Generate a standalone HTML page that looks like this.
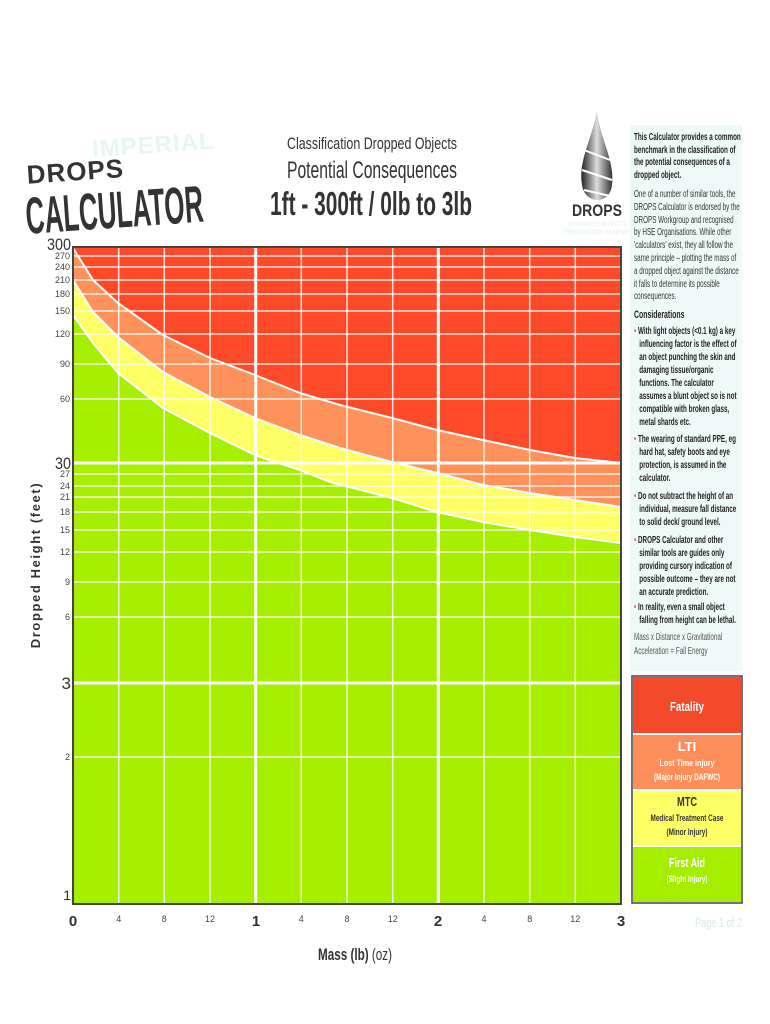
<!DOCTYPE html>
<html><head><meta charset="utf-8"><style>
html,body{margin:0;padding:0;background:#fff;width:770px;height:1024px;overflow:hidden;position:relative;font-family:"Liberation Sans",sans-serif;}
.abs{position:absolute;}
.side{position:absolute;left:634px;width:300px;white-space:nowrap;transform:scaleX(.63);transform-origin:0 0;font-size:10px;color:#333;line-height:12.6px;}
.side b{color:#222}
.bul{color:#ff5a3a}
</style></head><body>
<svg class="abs" style="left:0;top:0" width="770" height="1024" xmlns="http://www.w3.org/2000/svg" font-family="Liberation Sans, sans-serif">
<g transform="rotate(-4 110 190)">
<text x="95" y="156" font-size="24" font-weight="bold" fill="#e6f7f2" letter-spacing="1">IMPERIAL</text>
<text x="28" y="178" font-size="26" font-weight="bold" fill="#333" letter-spacing="1">DROPS</text>
<text x="24" y="228" font-size="52" font-weight="bold" fill="#333" textLength="178" lengthAdjust="spacingAndGlyphs">CALCULATOR</text>
</g>
<text x="372" y="149" font-size="17" text-anchor="middle" fill="#333" textLength="170" lengthAdjust="spacingAndGlyphs">Classification Dropped Objects</text>
<text x="372" y="178" font-size="24" text-anchor="middle" fill="#333" textLength="170" lengthAdjust="spacingAndGlyphs">Potential Consequences</text>
<text x="371" y="215" font-size="33" font-weight="bold" text-anchor="middle" fill="#333" textLength="202" lengthAdjust="spacingAndGlyphs">1ft - 300ft / 0lb to 3lb</text>
<defs><linearGradient id="g1" x1="0" x2="1"><stop offset="0" stop-color="#222"/><stop offset=".5" stop-color="#ddd"/><stop offset="1" stop-color="#333"/></linearGradient></defs>
<path d="M597 110 C592 140 578 160 582 185 C585 205 610 205 612 185 C615 160 600 140 597 110Z" fill="url(#g1)"/>
<path d="M584 150 L610 160 M582 170 L612 180 M584 190 L610 196" stroke="#fff" stroke-width="2"/>
<text x="597" y="216" font-size="17" font-weight="bold" text-anchor="middle" fill="#333" textLength="50" lengthAdjust="spacingAndGlyphs">DROPS</text>
<text x="597" y="226" font-size="6" text-anchor="middle" fill="#e0f2ee">DROPPED OBJECTS</text>
<text x="597" y="234" font-size="6" text-anchor="middle" fill="#e0f2ee">PREVENTION SCHEME</text>
<rect x="630" y="125" width="112" height="546" fill="#eefaf7"/>
<rect x="73" y="247" width="548" height="657" fill="#ff4a2a"/>
<polygon fill="#ff915a" points="73,248 93,280 118,303 163,335 210,358 255,375 300,393 340,405 392,418 437,430 483,440 530,450 575,458 621,463 621,904 73,904"/>
<polygon fill="#ffff66" points="73,280 93,312 118,337 163,372 210,397 255,418 300,435 340,448 392,462 437,473 483,485 530,493 575,500 621,507 621,904 73,904"/>
<polygon fill="#a6ef00" points="73,315 93,343 118,373 163,408 210,433 255,455 300,470 330,482 392,498 437,512 483,522 530,530 575,537 621,543 621,904 73,904"/>
<g stroke="#fff" stroke-opacity=".85" stroke-width="1.5">
<line x1="73" x2="621" y1="256" y2="256"/><line x1="73" x2="621" y1="267" y2="267"/><line x1="73" x2="621" y1="280" y2="280"/>
<line x1="73" x2="621" y1="294" y2="294"/><line x1="73" x2="621" y1="311" y2="311"/><line x1="73" x2="621" y1="334" y2="334"/>
<line x1="73" x2="621" y1="364" y2="364"/><line x1="73" x2="621" y1="399" y2="399"/>
<line x1="73" x2="621" y1="474" y2="474"/><line x1="73" x2="621" y1="486" y2="486"/><line x1="73" x2="621" y1="497" y2="497"/>
<line x1="73" x2="621" y1="512" y2="512"/><line x1="73" x2="621" y1="530" y2="530"/><line x1="73" x2="621" y1="552" y2="552"/>
<line x1="73" x2="621" y1="582" y2="582"/><line x1="73" x2="621" y1="617" y2="617"/><line x1="73" x2="621" y1="757" y2="757"/>
<line y1="247" y2="904" x1="118.7" x2="118.7"/><line y1="247" y2="904" x1="164.3" x2="164.3"/><line y1="247" y2="904" x1="210" x2="210"/>
<line y1="247" y2="904" x1="301.3" x2="301.3"/><line y1="247" y2="904" x1="347" x2="347"/><line y1="247" y2="904" x1="392.7" x2="392.7"/>
<line y1="247" y2="904" x1="484" x2="484"/><line y1="247" y2="904" x1="529.7" x2="529.7"/><line y1="247" y2="904" x1="575.3" x2="575.3"/>
</g>
<g stroke="#fff" stroke-width="3">
<line x1="73" x2="621" y1="463" y2="463"/><line x1="73" x2="621" y1="683" y2="683"/>
<line y1="247" y2="904" x1="255.7" x2="255.7"/><line y1="247" y2="904" x1="438.3" x2="438.3"/>
</g>
<g fill="none" stroke="#fff" stroke-width="2" stroke-linejoin="round">
<polyline points="73,248 93,280 118,303 163,335 210,358 255,375 300,393 340,405 392,418 437,430 483,440 530,450 575,458 621,463"/>
<polyline points="73,280 93,312 118,337 163,372 210,397 255,418 300,435 340,448 392,462 437,473 483,485 530,493 575,500 621,507"/>
<polyline points="73,315 93,343 118,373 163,408 210,433 255,455 300,470 330,482 392,498 437,512 483,522 530,530 575,537 621,543"/>
</g>
<rect x="73" y="247" width="548" height="657" fill="none" stroke="#444" stroke-width="2"/>
<g fill="#444" font-size="9" text-anchor="end">
<text x="70" y="259">270</text><text x="70" y="270">240</text><text x="70" y="283">210</text><text x="70" y="297">180</text>
<text x="70" y="314">150</text><text x="70" y="337">120</text><text x="70" y="367">90</text><text x="70" y="402">60</text>
<text x="70" y="477">27</text><text x="70" y="489">24</text><text x="70" y="500">21</text><text x="70" y="515">18</text>
<text x="70" y="533">15</text><text x="70" y="555">12</text><text x="70" y="585">9</text><text x="70" y="620">6</text>
<text x="70" y="760">2</text>
</g>
<g fill="#333" font-size="17" text-anchor="end">
<text x="71" y="250" textLength="24" lengthAdjust="spacingAndGlyphs">300</text>
<text x="71" y="469" textLength="16" lengthAdjust="spacingAndGlyphs">30</text>
<text x="71" y="689">3</text>
<text x="71" y="900" font-size="14">1</text>
</g>
<text transform="translate(40 565) rotate(-90)" font-size="13" font-weight="bold" fill="#333" text-anchor="middle" letter-spacing="1.6">Dropped Height (feet)</text>
<g fill="#444" font-size="9" text-anchor="middle">
<text x="118.7" y="922">4</text><text x="164.3" y="922">8</text><text x="210" y="922">12</text>
<text x="301.3" y="922">4</text><text x="347" y="922">8</text><text x="392.7" y="922">12</text>
<text x="484" y="922">4</text><text x="529.7" y="922">8</text><text x="575.3" y="922">12</text>
</g>
<g fill="#333" font-size="15" font-weight="bold" text-anchor="middle">
<text x="73" y="926">0</text><text x="256" y="926">1</text><text x="438" y="926">2</text><text x="621" y="926">3</text>
</g>
<text x="355" y="960" font-size="17" fill="#333" text-anchor="middle" textLength="74" lengthAdjust="spacingAndGlyphs"><tspan font-weight="bold">Mass (lb)</tspan> (oz)</text>
<rect x="632" y="676" width="110" height="227" fill="#fff" stroke="#444" stroke-width="1.5"/>
<rect x="633" y="677" width="108" height="56" fill="#f24a2a"/>
<rect x="633" y="735" width="108" height="54" fill="#ff8f5a"/>
<rect x="633" y="791" width="108" height="54" fill="#ffff66"/>
<rect x="633" y="847" width="108" height="55" fill="#a6ee00"/>
<g text-anchor="middle" font-weight="bold">
<text x="687" y="711" font-size="13" fill="#fff" textLength="34" lengthAdjust="spacingAndGlyphs">Fatality</text>
<text x="687" y="751" font-size="13" fill="#fff">LTI</text>
<text x="687" y="766" font-size="9" fill="#fff" textLength="55" lengthAdjust="spacingAndGlyphs">Lost Time Injury</text>
<text x="687" y="780" font-size="9" fill="#fff" textLength="66" lengthAdjust="spacingAndGlyphs">(Major Injury DAFWC)</text>
<text x="687" y="806" font-size="13" fill="#333" textLength="20" lengthAdjust="spacingAndGlyphs">MTC</text>
<text x="687" y="821" font-size="9" fill="#333" textLength="73" lengthAdjust="spacingAndGlyphs">Medical Treatment Case</text>
<text x="687" y="835" font-size="9" fill="#333" textLength="41" lengthAdjust="spacingAndGlyphs">(Minor Injury)</text>
<text x="687" y="867" font-size="13" fill="#fff" textLength="36" lengthAdjust="spacingAndGlyphs">First Aid</text>
<text x="687" y="882" font-size="9" fill="#fff" textLength="41" lengthAdjust="spacingAndGlyphs">(Slight Injury)</text>
</g>
<text x="742" y="927" font-size="13" fill="#d8ece8" text-anchor="end" textLength="47" lengthAdjust="spacingAndGlyphs">Page 1 of 2</text>
</svg>
<div class="side" style="top:132px"><b>This Calculator provides a common<br>benchmark in the classification of<br>the potential consequences of a<br>dropped object.</b></div>
<div class="side" style="top:189px;line-height:12.8px">One of a number of similar tools, the<br>DROPS Calculator is endorsed by the<br>DROPS Workgroup and recognised<br>by HSE Organisations. While other<br>'calculators' exist, they all follow the<br>same principle – plotting the mass of<br>a dropped object against the distance<br>it falls to determine its possible<br>consequences.</div>
<div class="side" style="top:309px;font-size:11px"><b>Considerations</b></div>
<div class="side" style="top:325px;line-height:13px"><b><span class="bul">•</span> With light objects (&lt;0.1 kg) a key<br>&nbsp;&nbsp;&nbsp;influencing factor is the effect of<br>&nbsp;&nbsp;&nbsp;an object punching the skin and<br>&nbsp;&nbsp;&nbsp;damaging tissue/organic<br>&nbsp;&nbsp;&nbsp;functions. The calculator<br>&nbsp;&nbsp;&nbsp;assumes a blunt object so is not<br>&nbsp;&nbsp;&nbsp;compatible with broken glass,<br>&nbsp;&nbsp;&nbsp;metal shards etc.</b></div>
<div class="side" style="top:433px;line-height:13px"><b><span class="bul">•</span> The wearing of standard PPE, eg<br>&nbsp;&nbsp;&nbsp;hard hat, safety boots and eye<br>&nbsp;&nbsp;&nbsp;protection, is assumed in the<br>&nbsp;&nbsp;&nbsp;calculator.</b></div>
<div class="side" style="top:490px;line-height:13px"><b><span class="bul">•</span> Do not subtract the height of an<br>&nbsp;&nbsp;&nbsp;individual, measure fall distance<br>&nbsp;&nbsp;&nbsp;to solid deck/ ground level.</b></div>
<div class="side" style="top:534px;line-height:13px"><b><span class="bul">•</span> DROPS Calculator and other<br>&nbsp;&nbsp;&nbsp;similar tools are guides only<br>&nbsp;&nbsp;&nbsp;providing cursory indication of<br>&nbsp;&nbsp;&nbsp;possible outcome – they are not<br>&nbsp;&nbsp;&nbsp;an accurate prediction.</b></div>
<div class="side" style="top:601px;line-height:13px"><b><span class="bul">•</span> In reality, even a small object<br>&nbsp;&nbsp;&nbsp;falling from height can be lethal.</b></div>
<div class="side" style="top:631px;line-height:14px;color:#555">Mass x Distance x Gravitational<br>Acceleration = Fall Energy</div>
</body></html>
